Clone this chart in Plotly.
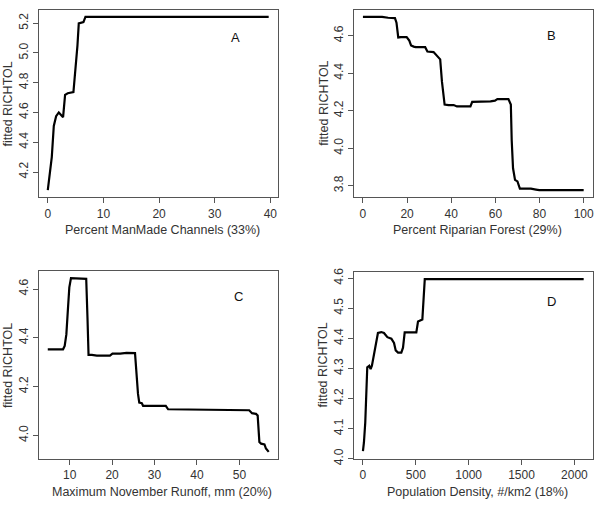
import plotly.graph_objects as go

# Panel A: Percent ManMade Channels
a_x = [0, 0.42, 0.72, 1.08, 1.5, 1.98, 2.46, 2.75, 3.11, 3.59, 4.61, 4.97, 5.33, 5.57, 5.99, 6.41, 6.77, 39.7]
a_y = [4.078, 4.212, 4.30, 4.509, 4.575, 4.60, 4.58, 4.568, 4.718, 4.729, 4.736, 4.872, 5.048, 5.198, 5.202, 5.207, 5.242, 5.242]

# Panel B: Percent Riparian Forest
b_x = [0, 8.7, 11.4, 14.5, 15.2, 16, 17.2, 19.8, 21, 21.8, 23, 23.9, 28.2, 29.2, 32, 33.5, 35, 35.8, 37, 38.8,
       41.1, 42.6, 48.7, 49.5, 56.3, 57.8, 59.8, 60.9, 65.9, 67, 67.4, 68, 68.9, 70, 71.1, 76.1, 78.4, 79.9, 100]
b_y = [4.701, 4.701, 4.696, 4.694, 4.67, 4.591, 4.593, 4.593, 4.574, 4.548, 4.542, 4.539, 4.539, 4.516, 4.513,
       4.495, 4.474, 4.355, 4.233, 4.23, 4.23, 4.223, 4.223, 4.247, 4.247, 4.25, 4.254, 4.262, 4.262, 4.233,
       4.041, 3.893, 3.831, 3.823, 3.784, 3.784, 3.779, 3.776, 3.776]

# Panel C: Maximum November Runoff
c_x = [4.84, 8.44, 8.83, 9.22, 9.61, 9.92, 10.31, 11.33, 13.28, 13.9, 14.2, 14.45, 15.23, 16.4, 19.5, 20.08,
       21.9, 23.4, 25.4, 25.8, 26.1, 26.4, 27.0, 27.3, 28.9, 32.65, 33.2, 36.7, 43.75, 44.4, 52.3, 52.97, 53.9,
       54.3, 54.7, 55.1, 55.9, 56.25, 56.9]
c_y = [4.353, 4.353, 4.367, 4.414, 4.523, 4.607, 4.645, 4.645, 4.642, 4.642, 4.482, 4.33, 4.33, 4.327, 4.327,
       4.335, 4.335, 4.338, 4.337, 4.21, 4.17, 4.134, 4.132, 4.121, 4.121, 4.121, 4.107, 4.106, 4.106, 4.103,
       4.103, 4.091, 4.088, 4.081, 3.973, 3.966, 3.963, 3.946, 3.932]

# Panel D: Population Density
d_x = [0, 9.5, 22, 31.6, 41, 60, 72.7, 85, 104, 123, 142, 174, 199, 231, 269, 294, 310, 332, 363, 379, 395,
       490, 505, 521, 547, 562, 585, 2088]
d_y = [4.025, 4.054, 4.12, 4.25, 4.304, 4.309, 4.298, 4.309, 4.347, 4.391, 4.418, 4.421, 4.418, 4.404, 4.399,
       4.385, 4.36, 4.353, 4.353, 4.369, 4.42, 4.42, 4.42, 4.456, 4.461, 4.463, 4.597, 4.597]

panels = [
    dict(x=a_x, y=a_y, label="A", xtitle="Percent ManMade Channels (33%)",
         xticks=[0, 10, 20, 30, 40], yticks=[4.2, 4.4, 4.6, 4.8, 5.0, 5.2],
         xr=[-1.59, 41.29], yr=[4.0314, 5.2886], yfmt=".1f"),
    dict(x=b_x, y=b_y, label="B", xtitle="Percent Riparian Forest (29%)",
         xticks=[0, 20, 40, 60, 80, 100], yticks=[3.8, 4.0, 4.2, 4.4, 4.6],
         xr=[-4, 104], yr=[3.739, 4.738], yfmt=".1f"),
    dict(x=c_x, y=c_y, label="C", xtitle="Maximum November Runoff, mm (20%)",
         xticks=[10, 20, 30, 40, 50], yticks=[4.0, 4.2, 4.4, 4.6],
         xr=[2.76, 58.98], yr=[3.9035, 4.6735], yfmt=".1f"),
    dict(x=d_x, y=d_y, label="D", xtitle="Population Density, #/km2 (18%)",
         xticks=[0, 500, 1000, 1500, 2000], yticks=[4.0, 4.1, 4.2, 4.3, 4.4, 4.5, 4.6],
         xr=[-83.5, 2171.5], yr=[3.9995, 4.621], yfmt=".1f"),
]

W, H = 596, 508
# plot boxes in pixels (left, right, top, bottom)
boxes = [(39, 278, 6, 197), (354.7, 593.5, 6, 197), (39, 278, 272.5, 464), (354.7, 593.5, 273.3, 464)]
label_pos = [(236, 34), (552.7, 32), (239, 298), (552.7, 303)]

fig = go.Figure()
text_col = "#333333"
box_col = "#555555"
font_family = "Liberation Sans, Arial, sans-serif"
annotations = []

for i, p in enumerate(panels):
    n = i + 1
    xa = "x" if n == 1 else f"x{n}"
    ya = "y" if n == 1 else f"y{n}"
    fig.add_trace(go.Scatter(x=p["x"], y=p["y"], mode="lines",
                             line=dict(color="black", width=2.2),
                             xaxis=xa, yaxis=ya, showlegend=False, hoverinfo="skip"))
    l, r, t, b = boxes[i]
    common = dict(showline=True, mirror=True, linecolor=box_col, linewidth=1,
                  ticks="outside", ticklen=5, tickcolor=box_col, tickwidth=1,
                  showgrid=False, zeroline=False,
                  tickfont=dict(size=12, color=text_col, family=font_family))
    fig.layout[f"xaxis{'' if n == 1 else n}"] = dict(
        domain=[l / W, r / W], anchor=ya, range=p["xr"],
        tickmode="array", tickvals=p["xticks"], **common)
    fig.layout[f"yaxis{'' if n == 1 else n}"] = dict(
        domain=[1 - b / H, 1 - t / H], anchor=xa, range=p["yr"],
        tickmode="array", tickvals=p["yticks"], tickformat=p["yfmt"],
        tickangle=-90, **common)
    # x axis title
    annotations.append(dict(text=p["xtitle"], xref="paper", yref="paper",
                            x=(l + r) / 2 / W + 4 / W, y=1 - (b + 34) / H,
                            showarrow=False, xanchor="center", yanchor="middle",
                            font=dict(size=12.5, color=text_col, family=font_family)))
    # y axis title
    annotations.append(dict(text="fitted RICHTOL", xref="paper", yref="paper",
                            x=(l - 31) / W, y=1 - (t + b) / 2 / H,
                            showarrow=False, xanchor="center", yanchor="middle", textangle=-90,
                            font=dict(size=12.5, color=text_col, family=font_family)))
    lx, ly = label_pos[i]
    annotations.append(dict(text=p["label"], xref="paper", yref="paper",
                            x=lx / W, y=1 - ly / H, showarrow=False,
                            xanchor="center", yanchor="middle",
                            font=dict(size=13, color="#111111", family=font_family)))

fig.update_layout(width=W, height=H, margin=dict(l=0, r=0, t=0, b=0),
                  paper_bgcolor="white", plot_bgcolor="white",
                  annotations=annotations)
fig.write_html("out.html")
